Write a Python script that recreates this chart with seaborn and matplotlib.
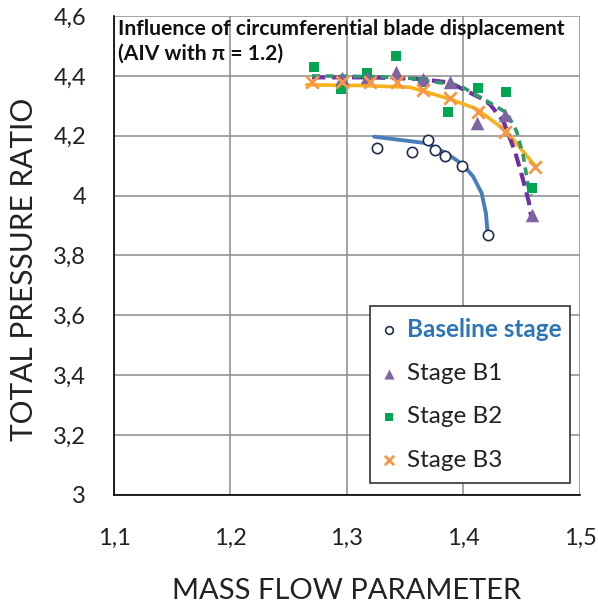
import numpy as np
import pandas as pd
import matplotlib
matplotlib.use("Agg")
import matplotlib.pyplot as plt
import seaborn as sns
from matplotlib.ticker import FuncFormatter

# ---- data ----
base_x = [1.326, 1.3555, 1.3693, 1.3755, 1.3841, 1.3985, 1.4213]
base_y = [4.158, 4.145, 4.186, 4.152, 4.132, 4.100, 3.869]

b1_x = [1.2955, 1.3169, 1.342, 1.3655, 1.3884, 1.4113, 1.4356, 1.4585]
b1_y = [4.392, 4.395, 4.412, 4.390, 4.381, 4.242, 4.269, 3.935]

b2_x = [1.2719, 1.2948, 1.3169, 1.342, 1.3655, 1.387, 1.4122, 1.4362, 1.4585]
b2_y = [4.429, 4.355, 4.409, 4.467, 4.381, 4.278, 4.360, 4.347, 4.025]

b3_x = [1.2697, 1.2955, 1.3197, 1.3427, 1.3655, 1.3884, 1.4127, 1.4356, 1.4614]
b3_y = [4.380, 4.378, 4.378, 4.378, 4.353, 4.325, 4.278, 4.213, 4.097]

# trend lines
base_tx = [1.3232, 1.3455, 1.3684, 1.3856, 1.400, 1.4084, 1.4156, 1.4193, 1.4207]
base_ty = [4.197, 4.186, 4.175, 4.141, 4.102, 4.063, 4.008, 3.940, 3.874]

b1_tx = [1.270, 1.320, 1.360, 1.388, 1.4142, 1.4227, 1.434, 1.444, 1.451, 1.4560, 1.4585]
b1_ty = [4.395, 4.395, 4.390, 4.378, 4.327, 4.305, 4.250, 4.150, 4.055, 3.980, 3.920]

b2_tx = [1.270, 1.320, 1.354, 1.397, 1.420, 1.437, 1.4456, 1.4513, 1.4556, 1.458]
b2_ty = [4.400, 4.398, 4.392, 4.367, 4.316, 4.277, 4.215, 4.133, 4.030, 4.000]

b3_tx = [1.2654, 1.310, 1.354, 1.388, 1.411, 1.437, 1.4542, 1.4614]
b3_ty = [4.370, 4.368, 4.362, 4.323, 4.290, 4.215, 4.133, 4.100]

labels = ["Baseline stage", "Stage B1", "Stage B2", "Stage B3"]
x_ticks = [1.1, 1.2, 1.3, 1.4, 1.5]
y_ticks = [3.0, 3.2, 3.4, 3.6, 3.8, 4.0, 4.2, 4.4, 4.6]

# ---- styling ----
sns.set_style("white")
plt.rcParams["font.family"] = ["Lato", "DejaVu Sans"]

fig = plt.figure(figsize=(5.98, 6.06), dpi=100)
ax = fig.add_axes([0.1906, 0.1832, 0.7793, 0.7904])

pts = pd.concat([
    pd.DataFrame({"x": base_x, "y": base_y, "s": labels[0]}),
    pd.DataFrame({"x": b1_x, "y": b1_y, "s": labels[1]}),
    pd.DataFrame({"x": b2_x, "y": b2_y, "s": labels[2]}),
    pd.DataFrame({"x": b3_x, "y": b3_y, "s": labels[3]}),
])

# trend lines
sns.lineplot(x=b3_tx, y=b3_ty, ax=ax, sort=False, color="#F5B21A", lw=2.6, zorder=3)
sns.lineplot(x=b1_tx, y=b1_ty, ax=ax, sort=False, color="#7030A0", lw=3.0,
             dashes=(3.2, 1.6), zorder=3)
sns.lineplot(x=b2_tx, y=b2_ty, ax=ax, sort=False, color="#2E9A6B", lw=2.6,
             dashes=(2.2, 1.6), zorder=3)
sns.lineplot(x=base_tx, y=base_ty, ax=ax, sort=False, color="#4A7EBB", lw=2.8, zorder=3)

# markers
d = pts[pts.s == labels[2]]
h2 = ax.scatter(d.x, d.y, marker="s", s=60, color="#00A651", zorder=4, linewidths=0)
d = pts[pts.s == labels[1]]
h1 = ax.scatter(d.x, d.y, marker="^", s=95, color="#8064A2", zorder=5, linewidths=0)
d = pts[pts.s == labels[3]]
h3 = ax.scatter(d.x, d.y, marker="x", s=80, color="#F79646", zorder=5, linewidths=2)
d = pts[pts.s == labels[0]]
h0 = ax.scatter(d.x, d.y, marker="o", s=55, facecolors="white", edgecolors="#1F2F4F",
                linewidths=1.2, zorder=5)

ax.set_xlim(1.1, 1.5)
ax.set_ylim(3.0, 4.6)
ax.set_xticks(x_ticks)
ax.set_yticks(y_ticks)
fmt = FuncFormatter(lambda v, p: ("%g" % round(v, 2)).replace(".", ","))
ax.xaxis.set_major_formatter(fmt)
ax.yaxis.set_major_formatter(fmt)
ax.grid(True, color="#8C8C8C", lw=1.1)
ax.set_axisbelow(True)
for s in ["top", "right"]:
    ax.spines[s].set_visible(False)
for s in ["left", "bottom"]:
    ax.spines[s].set_color("black")
    ax.spines[s].set_linewidth(1.2)
ax.tick_params(direction="inout", length=12, width=1.1, labelsize=17, colors="#222222")
ax.tick_params(axis="x", pad=18)
ax.tick_params(axis="y", pad=14)

ax.set_xlabel("MASS FLOW PARAMETER", fontsize=21, color="#222222", labelpad=21)
ax.set_ylabel("TOTAL PRESSURE RATIO", fontsize=21.5, color="#222222")
ax.yaxis.set_label_coords(-0.163, 0.47)

ax.text(0.008, 0.993, "Influence of circumferential blade displacement\n(AIV with \u03c0 = 1.2)",
        transform=ax.transAxes, ha="left", va="top", fontsize=15.2, fontweight="bold",
        color="#111111", linespacing=1.3)

leg = ax.legend([h0, h1, h2, h3], labels, loc="lower left",
                bbox_to_anchor=(0.549, 0.025, 0.429, 0.357), mode="expand",
                fontsize=17.5, frameon=True, fancybox=False, edgecolor="#333333",
                framealpha=1, labelspacing=0.92, handlelength=0.6, handletextpad=0.45,
                borderpad=0.5, markerscale=0.75, borderaxespad=0)
leg.get_frame().set_linewidth(1.2)
t0 = leg.get_texts()[0]
t0.set_color("#2E75B6")
t0.set_fontweight("bold")
for t in leg.get_texts()[1:]:
    t.set_color("#222222")

fig.savefig("out.png", dpi=100)
